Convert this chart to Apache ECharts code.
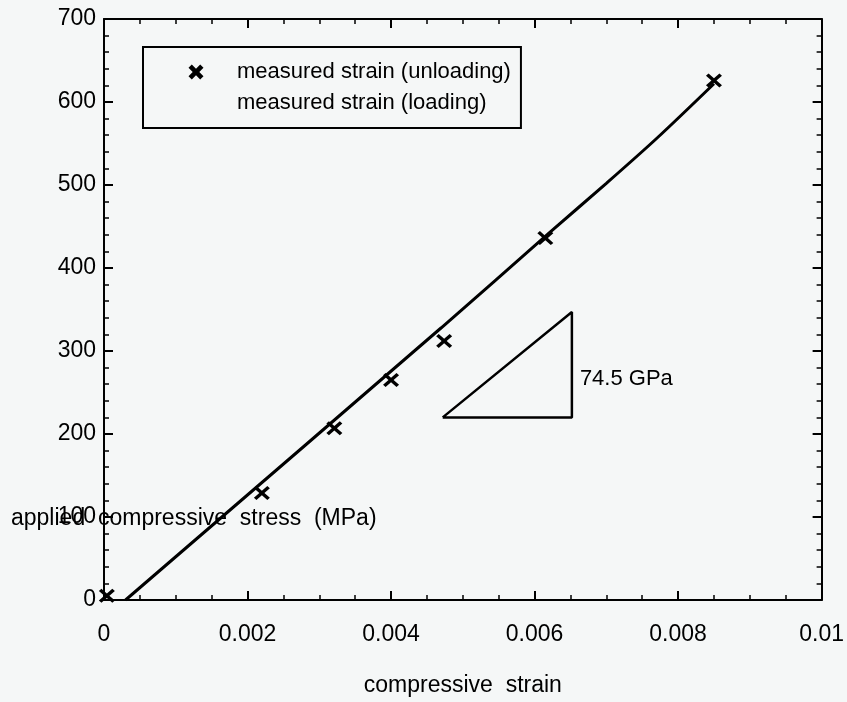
<!DOCTYPE html>
<html>
<head>
<meta charset="utf-8">
<script src="https://cdn.jsdelivr.net/npm/echarts@6/dist/echarts.min.js"></script>
<style>
  html, body { margin: 0; padding: 0; background: #f5f7f7; }
  #chart { width: 847px; height: 702px; }
</style>
</head>
<body>
<div id="chart"></div>
<script>
// measured points (unloading): [strain, stress MPa]
var unloadStrain = [0.00004, 0.0022, 0.00321, 0.0040, 0.00474, 0.00615, 0.0085];
var unloadStress = [5, 129, 207, 265, 312, 436, 626];

// fitted curve (loading)
var loadStrain = [0.0003, 0.0047, 0.0062, 0.0070, 0.0077, 0.0085];
var loadStress = [0, 328, 442, 502, 556, 622];

// slope triangle
var triStrain = [0.00472, 0.00652, 0.00652, 0.00472];
var triStress = [220, 220, 347, 220];

var fontName = 'Liberation Sans';
var fs = 23;

function pairs(xs, ys) {
    var out = [];
    for (var i = 0; i < xs.length; i++) {
        out.push([xs[i], ys[i]]);
    }
    return out;
}

// filled X shapes (stroke-free paths)
var crossPath = 'path://M1.6,0L5,3.4L8.4,0L10,1.6L6.6,5L10,8.4L8.4,10L5,6.6L1.6,10L0,8.4L3.4,5L0,1.6Z';
var boldCross = 'path://M2.2,0L5,2.8L7.8,0L10,2.2L7.2,5L10,7.8L7.8,10L5,7.2L2.2,10L0,7.8L2.8,5L0,2.2Z';

var chart = echarts.init(document.getElementById('chart'));

function axisX(pos, showLabel) {
    return {
        type: 'value',
        position: pos,
        min: 0,
        max: 0.01,
        interval: 0.002,
        axisLine: { show: true, onZero: false, lineStyle: { color: '#000', width: 2 } },
        axisTick: { show: true, inside: true, length: 9, lineStyle: { color: '#000', width: 2 } },
        minorTick: { show: true, splitNumber: 4, length: 5, lineStyle: { color: '#000', width: 1.5 } },
        splitLine: { show: false },
        axisLabel: {
            show: showLabel, margin: 23, color: '#000',
            fontFamily: fontName, fontSize: fs
        },
        name: showLabel ? 'compressive  strain' : '',
        nameLocation: 'middle',
        nameGap: 74,
        nameTextStyle: { color: '#000', fontFamily: fontName, fontSize: fs }
    };
}

function axisY(pos, showLabel) {
    return {
        type: 'value',
        position: pos,
        min: 0,
        max: 700,
        interval: 100,
        axisLine: { show: true, onZero: false, lineStyle: { color: '#000', width: 2 } },
        axisTick: { show: true, inside: true, length: 9, lineStyle: { color: '#000', width: 2 } },
        minorTick: { show: true, splitNumber: 5, length: 5, lineStyle: { color: '#000', width: 1.5 } },
        splitLine: { show: false },
        axisLabel: {
            show: showLabel, margin: 8, color: '#000',
            fontFamily: fontName, fontSize: fs
        }
    };
}

var option = {
    backgroundColor: '#f5f7f7',
    animation: false,
    grid: { left: 104, right: 22, top: 19, bottom: 101 },
    legend: {
        orient: 'vertical',
        left: 143,
        top: 47,
        borderColor: '#000',
        borderWidth: 2,
        padding: [13, 10, 13, 45],
        itemGap: 7,
        itemWidth: 16,
        itemHeight: 15,
        textStyle: {
            color: '#000', fontFamily: fontName, fontSize: 22,
            lineHeight: 24, padding: [0, 0, 0, 28]
        },
        data: [
            { name: 'measured strain (unloading)', icon: boldCross },
            { name: 'measured strain (loading)', icon: 'none' }
        ]
    },
    xAxis: [axisX('bottom', true), axisX('top', false)],
    yAxis: [axisY('left', true), axisY('right', false)],
    graphic: [{
        type: 'text',
        left: 11,
        top: 507,
        style: {
            text: 'applied  compressive  stress  (MPa)',
            fill: '#000',
            font: fs + 'px "' + fontName + '"'
        }
    }],
    series: [
        {
            name: 'measured strain (loading)',
            type: 'line',
            smooth: 0.3,
            showSymbol: false,
            data: pairs(loadStrain, loadStress),
            lineStyle: { color: '#000', width: 3 },
            itemStyle: { color: '#000' },
            z: 3
        },
        {
            name: 'measured strain (unloading)',
            type: 'scatter',
            symbol: crossPath,
            symbolSize: [16, 14],
            data: pairs(unloadStrain, unloadStress),
            itemStyle: { color: '#000', opacity: 1 },
            z: 4
        },
        {
            name: 'slope',
            type: 'line',
            showSymbol: false,
            data: pairs(triStrain, triStress),
            lineStyle: { color: '#000', width: 2.5 },
            z: 2
        },
        {
            name: 'slopeLabel',
            type: 'scatter',
            symbolSize: 0,
            data: [[0.00652, 266]],
            itemStyle: { opacity: 1 },
            label: {
                show: true,
                position: 'right',
                distance: 8,
                formatter: '74.5 GPa',
                color: '#000',
                fontFamily: fontName,
                fontSize: 22
            }
        }
    ]
};

chart.setOption(option);
</script>
</body>
</html>
